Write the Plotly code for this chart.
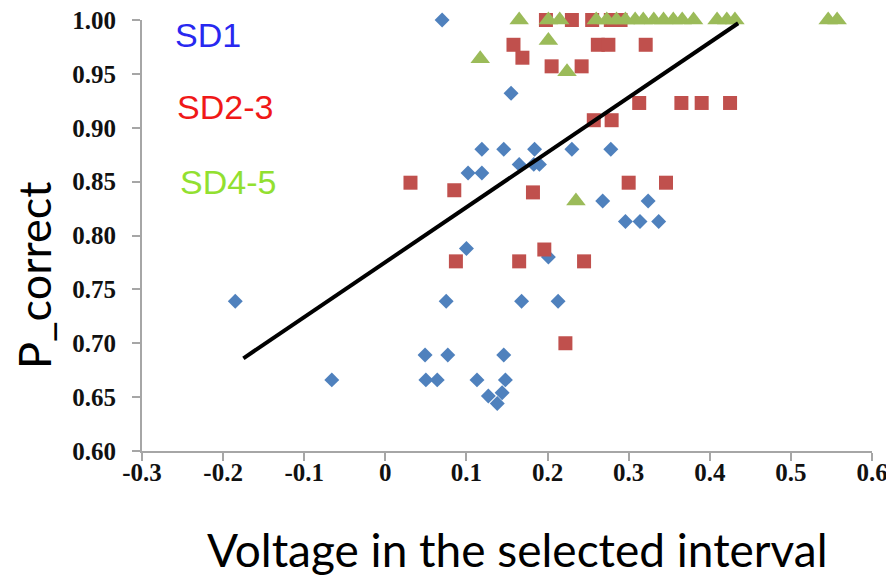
import plotly.graph_objects as go

# ---- data ----
sd1_x = [0.070, 0.155, 0.119, 0.146, 0.184, 0.230, 0.278, 0.165, 0.183, 0.190,
         0.102, 0.119, 0.268, 0.324, 0.296, 0.314, 0.337, 0.100, 0.201, -0.185,
         0.075, 0.168, 0.213, 0.049, 0.077, 0.146, -0.066, 0.050, 0.064, 0.113,
         0.148, 0.144, 0.127, 0.138]
sd1_y = [1.000, 0.932, 0.880, 0.880, 0.880, 0.880, 0.880, 0.866, 0.866, 0.866,
         0.858, 0.858, 0.832, 0.832, 0.813, 0.813, 0.813, 0.788, 0.780, 0.739,
         0.739, 0.739, 0.739, 0.689, 0.689, 0.689, 0.666, 0.666, 0.666, 0.666,
         0.666, 0.654, 0.651, 0.644]

sd23_x = [0.198, 0.230, 0.255, 0.278, 0.290, 0.158, 0.262, 0.275, 0.321, 0.169,
          0.205, 0.242, 0.313, 0.365, 0.390, 0.425, 0.257, 0.279, 0.031, 0.300,
          0.346, 0.085, 0.182, 0.196, 0.087, 0.165, 0.245, 0.222]
sd23_y = [1.000, 1.000, 1.000, 1.000, 1.000, 0.977, 0.977, 0.977, 0.977, 0.965,
          0.957, 0.957, 0.923, 0.923, 0.923, 0.923, 0.907, 0.907, 0.849, 0.849,
          0.849, 0.842, 0.840, 0.787, 0.776, 0.776, 0.776, 0.700]

sd45_x = [0.165, 0.201, 0.215, 0.260, 0.273, 0.285, 0.296, 0.308, 0.318, 0.331,
          0.343, 0.355, 0.366, 0.380, 0.409, 0.421, 0.431, 0.546, 0.557, 0.201,
          0.117, 0.224, 0.235]
sd45_y = [1.000, 1.000, 1.000, 1.000, 1.000, 1.000, 1.000, 1.000, 1.000, 1.000,
          1.000, 1.000, 1.000, 1.000, 1.000, 1.000, 1.000, 1.000, 1.000, 0.981,
          0.964, 0.952, 0.832]

fit_x = [-0.175, 0.435]
fit_y = [0.686, 0.997]

x_ticks = [-0.3, -0.2, -0.1, 0, 0.1, 0.2, 0.3, 0.4, 0.5, 0.6]
x_ticktext = ["-0.3", "-0.2", "-0.1", "0", "0.1", "0.2", "0.3", "0.4", "0.5", "0.6"]
y_ticks = [0.60, 0.65, 0.70, 0.75, 0.80, 0.85, 0.90, 0.95, 1.00]
y_ticktext = ["0.60", "0.65", "0.70", "0.75", "0.80", "0.85", "0.90", "0.95", "1.00"]

legend_labels = ["SD1", "SD2-3", "SD4-5"]

fig = go.Figure()
fig.add_trace(go.Scatter(x=sd1_x, y=sd1_y, mode="markers", name="SD1",
                         marker=dict(symbol="diamond", size=11.5, color="#4F81BD"),
                         cliponaxis=False))
fig.add_trace(go.Scatter(x=sd23_x, y=sd23_y, mode="markers", name="SD2-3",
                         marker=dict(symbol="square", size=14, color="#C0504D"),
                         cliponaxis=False))
fig.add_trace(go.Scatter(x=sd45_x, y=sd45_y, mode="markers", name="SD4-5",
                         marker=dict(symbol="triangle-up", size=17, color="#9BBB59"),
                         cliponaxis=False))
fig.add_trace(go.Scatter(x=fit_x, y=fit_y, mode="lines", name="fit",
                         line=dict(color="black", width=4), cliponaxis=False))

tick_font = dict(family="Liberation Serif", size=25, color="#111111", weight="bold")
fig.update_xaxes(range=[-0.3, 0.6], tickvals=x_ticks, ticktext=x_ticktext,
                 showgrid=False, zeroline=False, showline=True, linecolor="#A6A6A6",
                 linewidth=2, ticks="outside", ticklen=8, tickcolor="#A6A6A6",
                 tickwidth=2, tickfont=tick_font, automargin=False,
                 ticklabelstandoff=-10, ticklabeloverflow="allow")
fig.update_yaxes(range=[0.6, 1.0], tickvals=y_ticks, ticktext=y_ticktext,
                 showgrid=False, zeroline=False, showline=True, linecolor="#A6A6A6",
                 linewidth=2, ticks="outside", ticklen=8, tickcolor="#A6A6A6",
                 tickwidth=2, tickfont=tick_font, automargin=False,
                 ticklabelstandoff=11, ticklabeloverflow="allow")

legend_colors = ["#2828F0", "#F01818", "#92E030"]
legend_pos = [(0.0425, 0.965), (0.045, 0.797), (0.049, 0.625)]
for lab, col, (px, py) in zip(legend_labels, legend_colors, legend_pos):
    fig.add_annotation(text=lab, xref="paper", yref="paper", x=px, y=py,
                       xanchor="left", yanchor="middle", showarrow=False,
                       font=dict(family="Liberation Sans", size=34, color=col))

fig.add_annotation(text="Voltage in the selected interval", xref="paper", yref="paper",
                   x=0.515, y=-0.229, xanchor="center", yanchor="middle", showarrow=False,
                   font=dict(family="Lato", size=46, color="black"))
fig.add_annotation(text="P_correct", xref="paper", yref="paper",
                   x=-0.148, y=0.408, xanchor="center", yanchor="middle", showarrow=False,
                   textangle=-90, font=dict(family="Lato", size=45, color="black"))

# the page body adds an 8px offset, so margins are shifted to keep the plot area in place
fig.update_layout(width=894, height=580, showlegend=False,
                  margin=dict(l=134, r=30, t=12, b=137),
                  plot_bgcolor="white", paper_bgcolor="white")

fig.write_html("out.html")
